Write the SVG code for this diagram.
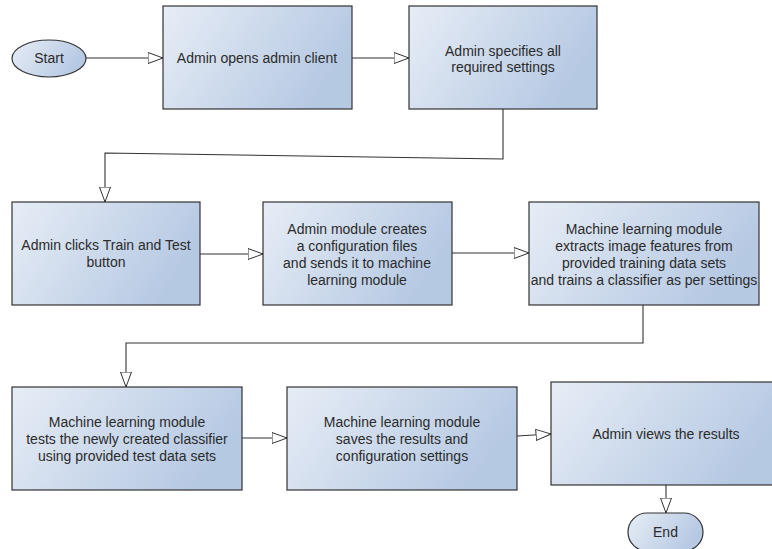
<svg xmlns="http://www.w3.org/2000/svg" width="772" height="549" viewBox="0 0 772 549">
  <defs>
    <linearGradient id="g" x1="0" y1="0" x2="1" y2="0.35">
      <stop offset="0" stop-color="#e7edf6"/>
      <stop offset="1" stop-color="#b6c9e3"/>
    </linearGradient>
    <marker id="arr" markerUnits="userSpaceOnUse" markerWidth="17" markerHeight="12" refX="15.5" refY="6" orient="auto">
      <path d="M0.5,0.5 L15.5,6 L0.5,11.5 Z" fill="#ffffff" stroke="#333333" stroke-width="1"/>
    </marker>
  </defs>
  <style>
    .box { fill: url(#g); stroke: #333333; stroke-width: 1.2; }
    .t { font-family: "Liberation Sans", Arial, sans-serif; font-size: 14px; fill: #2b2b2b; text-anchor: middle; }
    .c { fill: none; stroke: #333333; stroke-width: 1.1; marker-end: url(#arr); }
  </style>
  <rect width="772" height="549" fill="#ffffff"/>

  <g id="connectors">
    <path class="c" d="M86,58 L163,58"/>
    <path class="c" d="M352,58 L409,58"/>
    <path class="c" d="M503,109 L503,159 L105,153 L105,202"/>
    <path class="c" d="M200,254 L263,254"/>
    <path class="c" d="M452,253 L529,253"/>
    <path class="c" d="M643,305 L643,343 L126,343 L126,387"/>
    <path class="c" d="M242,438 L287,438"/>
    <path class="c" d="M517,436 L551,434"/>
    <path class="c" d="M666,485 L666,513"/>
  </g>

  <g id="start">
    <ellipse class="box" cx="49" cy="58.5" rx="37" ry="18.5"/>
    <text class="t" x="49" y="63">Start</text>
  </g>
  <g id="n1">
    <rect class="box" x="163" y="6" width="189" height="103"/>
    <text class="t" x="257" y="63">Admin opens admin client</text>
  </g>
  <g id="n2">
    <rect class="box" x="409" y="6" width="188" height="103"/>
    <text class="t" x="503" y="56">Admin specifies all</text>
    <text class="t" x="503" y="72">required settings</text>
  </g>
  <g id="n3">
    <rect class="box" x="12" y="202" width="188" height="103"/>
    <text class="t" x="106" y="250">Admin clicks Train and Test</text>
    <text class="t" x="106" y="267">button</text>
  </g>
  <g id="n4">
    <rect class="box" x="263" y="202" width="189" height="103"/>
    <text class="t" x="357" y="234">Admin module creates</text>
    <text class="t" x="357" y="251">a configuration files</text>
    <text class="t" x="357" y="268">and sends it to machine</text>
    <text class="t" x="357" y="285">learning module</text>
  </g>
  <g id="n5">
    <rect class="box" x="529" y="202" width="230" height="103"/>
    <text class="t" x="644" y="234">Machine learning module</text>
    <text class="t" x="644" y="251">extracts image features from</text>
    <text class="t" x="644" y="268">provided training data sets</text>
    <text class="t" x="644" y="285">and trains a classifier as per settings</text>
  </g>
  <g id="n6">
    <rect class="box" x="12" y="387" width="230" height="103"/>
    <text class="t" x="127" y="427">Machine learning module</text>
    <text class="t" x="127" y="444">tests the newly created classifier</text>
    <text class="t" x="127" y="461">using provided test data sets</text>
  </g>
  <g id="n7">
    <rect class="box" x="287" y="387" width="230" height="103"/>
    <text class="t" x="402" y="427">Machine learning module</text>
    <text class="t" x="402" y="444">saves the results and</text>
    <text class="t" x="402" y="461">configuration settings</text>
  </g>
  <g id="n8">
    <rect class="box" x="551" y="382" width="230" height="103"/>
    <text class="t" x="666" y="439">Admin views the results</text>
  </g>
  <g id="end">
    <rect class="box" x="628" y="513" width="75" height="38" rx="19" ry="19"/>
    <text class="t" x="665.5" y="537">End</text>
  </g>
</svg>
